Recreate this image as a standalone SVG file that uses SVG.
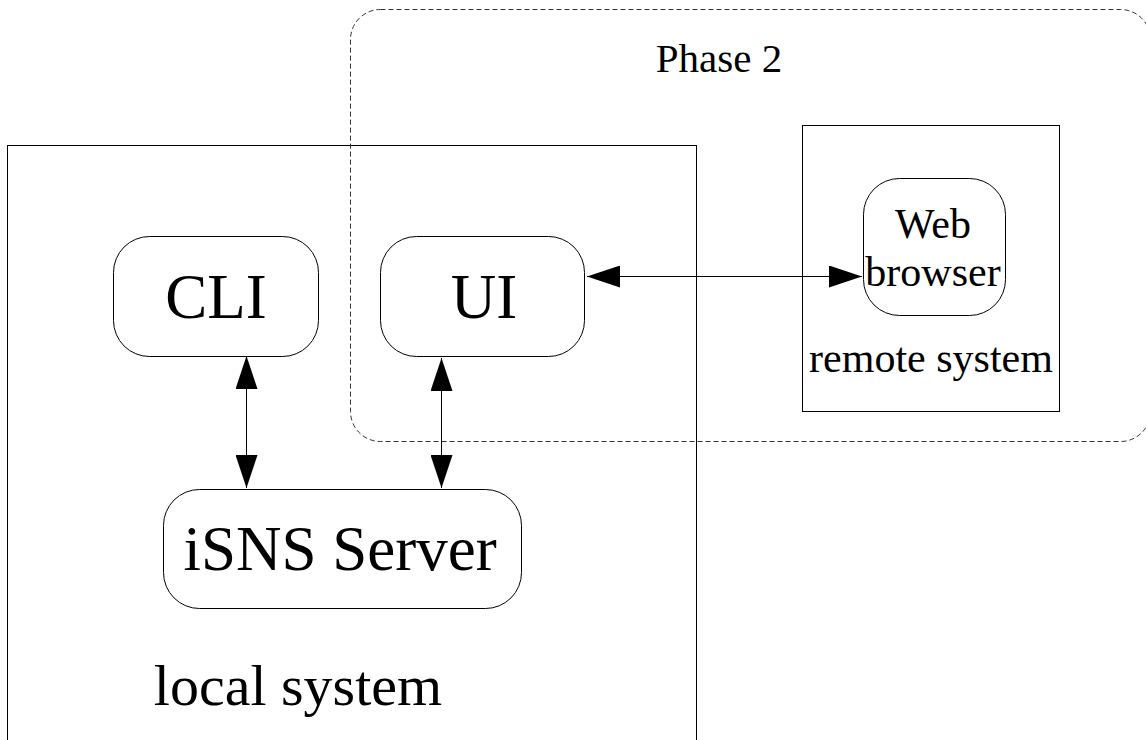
<svg xmlns="http://www.w3.org/2000/svg" width="1146" height="740" viewBox="0 0 1146 740">
<style>
.box{fill:none;stroke:#000;stroke-width:1}
.dash{fill:none;stroke:#333;stroke-width:1;stroke-dasharray:5 3}
.node{fill:#fff;stroke:#000;stroke-width:1}
.big{font-family:"Liberation Serif","Times New Roman",serif;font-size:63px;fill:#000;text-anchor:middle}
.mid{font-family:"Liberation Serif","Times New Roman",serif;font-size:42px;fill:#000;text-anchor:middle}
.conn{stroke:#000;stroke-width:1;fill:none;marker-start:url(#ah);marker-end:url(#ah)}
</style>
<defs>
<marker id="ah" viewBox="0 0 33 22" refX="33" refY="11" markerWidth="33" markerHeight="22" markerUnits="userSpaceOnUse" orient="auto-start-reverse">
<path d="M0,0 L33,11 L0,22 Z" fill="#000"/>
</marker>
</defs>
<rect width="1146" height="740" fill="#fff"/>
<g id="local-system">
<rect class="box" x="7.5" y="145.5" width="689" height="640"/>
<text class="big" x="298" y="705" style="font-size:58px">local system</text>
</g>
<g id="phase2">
<rect class="dash" x="350.5" y="9.5" width="800" height="432" rx="30" ry="30"/>
<text class="mid" x="719" y="72" style="font-size:41px">Phase 2</text>
</g>
<g id="remote-system">
<rect class="box" x="802.5" y="125.5" width="257" height="286"/>
<text class="mid" x="931" y="372">remote system</text>
</g>
<g id="cli">
<rect class="node" x="113.5" y="236.5" width="205" height="120" rx="36" ry="36"/>
<text class="big" x="216" y="318">CLI</text>
</g>
<g id="ui">
<rect class="node" x="380.5" y="236.5" width="204" height="120" rx="36" ry="36"/>
<text class="big" x="484" y="318">UI</text>
</g>
<g id="web-browser">
<rect class="node" x="863.5" y="178.5" width="142" height="137" rx="36" ry="36"/>
<text class="mid" x="933" y="238">Web</text>
<text class="mid" x="933" y="286">browser</text>
</g>
<g id="isns-server">
<rect class="node" x="163.5" y="489.5" width="358" height="119" rx="36" ry="36"/>
<text class="big" x="340" y="570">iSNS Server</text>
</g>
<g id="connectors">
<line class="conn" x1="587" y1="276.5" x2="862" y2="276.5"/>
<line class="conn" x1="246.5" y1="356" x2="246.5" y2="488"/>
<line class="conn" x1="441.5" y1="358" x2="441.5" y2="488"/>
</g>
</svg>
